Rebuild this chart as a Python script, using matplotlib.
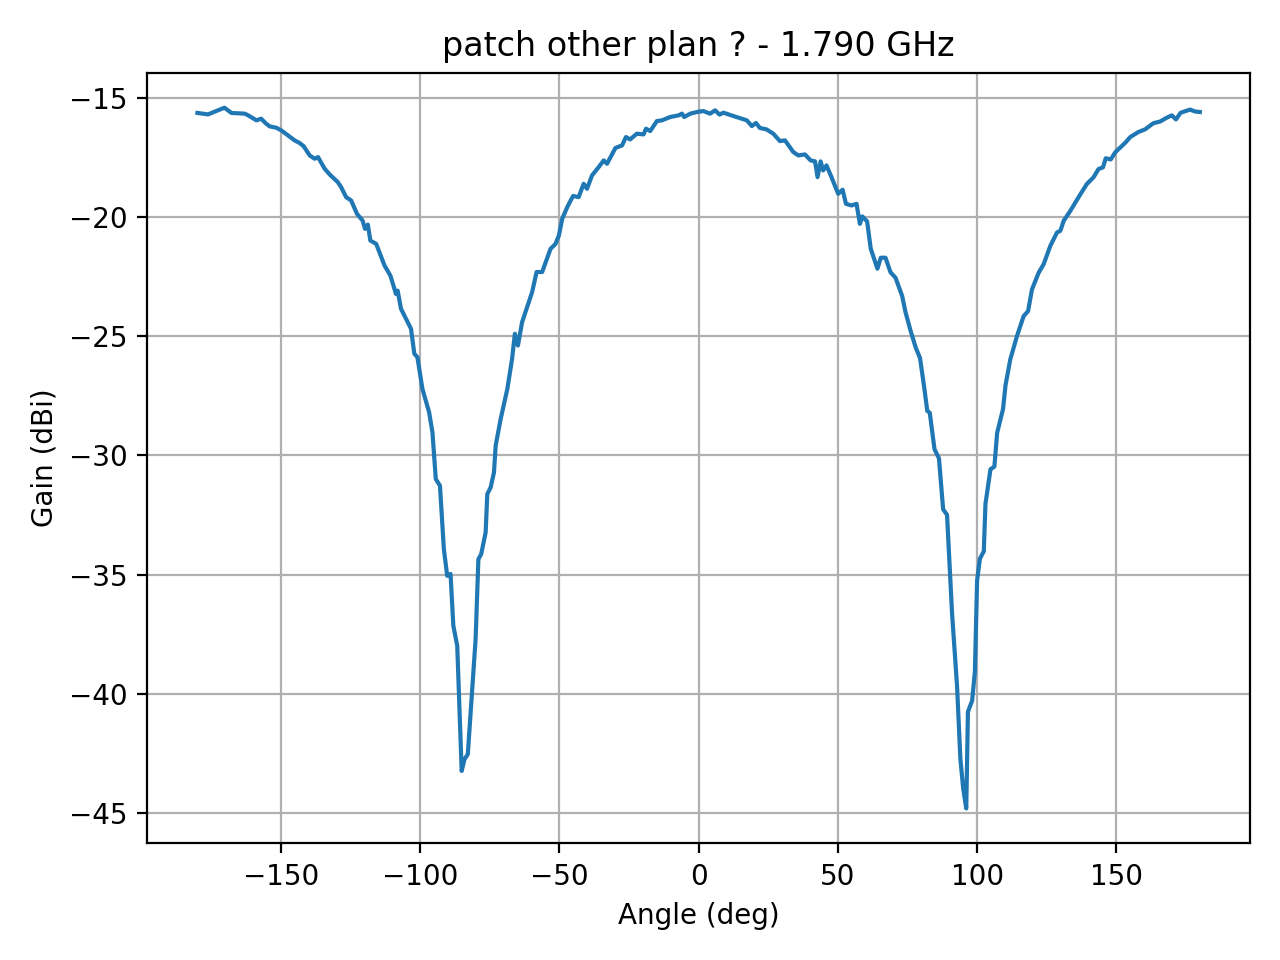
import matplotlib
matplotlib.use("Agg")
import matplotlib.pyplot as plt

angle_deg = [
    -180.0, -176.2, -173.2, -170.3, -167.8, -163.0, -161.8, -158.8, -157.1, -155.6,
    -154.1, -151.7, -149.9, -147.5, -145.1, -143.3, -141.8, -139.7, -137.9, -136.7,
    -134.3, -132.5, -129.6, -128.4, -126.6, -124.8, -122.7, -120.7, -119.8, -118.8,
    -117.9, -115.8, -112.8, -110.7, -108.7, -108.1, -106.9, -104.5, -103.3, -102.1,
    -101.0, -99.2, -96.8, -95.6, -94.4, -92.9, -91.5,
    -90.3, -89.1, -88.1, -86.7, -85.1, -84.1, -82.9, -80.1, -79.1, -78.1,
    -76.5, -75.9, -74.7, -73.5, -72.9, -71.1, -68.7, -67.0, -66.0, -64.9,
    -63.4, -59.8, -58.2, -56.2, -53.2, -51.4, -50.2, -49.0, -47.2, -45.1,
    -43.1, -41.3, -40.1, -38.3, -35.9, -34.1, -32.9, -29.9, -27.5, -26.1,
    -24.6, -22.2, -19.8, -18.9, -17.4, -15.0, -13.2, -10.2, -7.2, -6.0,
    -5.2, -3.0, -0.6, 1.7, 4.1, 5.9, 7.5, 8.9, 12.5, 17.3,
    19.1, 20.6, 22.0, 24.4, 26.8, 29.2, 31.0, 34.0, 35.8, 38.2,
    40.2, 41.8, 42.7, 43.8, 44.7, 45.9, 47.7, 50.1, 51.7, 52.9,
    54.9, 56.7, 57.9, 58.8, 60.5, 61.8, 64.2, 65.4, 67.1, 68.9,
    70.7, 73.1, 74.3, 76.1, 77.9, 79.5, 80.9, 82.1, 83.0, 84.7,
    86.3, 87.8, 89.2, 91.0, 92.8, 94.0, 95.0, 96.1, 96.7, 98.2,
    99.2, 100.0, 101.0, 102.4, 103.0, 104.8, 106.2, 107.2, 109.3, 110.2,
    111.9, 114.3, 116.7, 118.3, 119.7, 122.1, 123.9, 126.3, 128.7, 129.9,
    131.1, 133.5, 136.4, 139.4, 141.8, 143.6, 145.2, 146.2, 148.0, 149.6,
    153.2, 155.0, 157.9, 160.3, 163.3, 165.7, 168.1, 169.9, 171.4, 173.1,
    176.5, 178.3, 180.0,
]

gain_dbi = [
    -15.64, -15.70, -15.56, -15.42, -15.64, -15.67, -15.74, -15.95, -15.88, -16.06,
    -16.20, -16.26, -16.37, -16.58, -16.79, -16.90, -17.04, -17.42, -17.56, -17.49,
    -17.98, -18.22, -18.54, -18.75, -19.17, -19.31, -19.87, -20.15, -20.50, -20.32,
    -20.99, -21.13, -22.04, -22.46, -23.23, -23.09, -23.85, -24.41, -24.69, -25.74,
    -25.88, -27.21, -28.19, -29.03, -30.99, -31.27, -33.93,
    -35.05, -34.97, -37.14, -37.98, -43.23, -42.74, -42.53, -37.70, -34.35, -34.14,
    -33.23, -31.62, -31.34, -30.71, -29.59, -28.47, -27.21, -25.95, -24.90, -25.39,
    -24.41, -23.15, -22.31, -22.31, -21.34, -21.13, -20.78, -20.08, -19.59, -19.12,
    -19.17, -18.61, -18.82, -18.26, -17.91, -17.63, -17.77, -17.11, -17.00, -16.65,
    -16.75, -16.51, -16.54, -16.30, -16.40, -15.98, -15.95, -15.81, -15.74, -15.67,
    -15.81, -15.67, -15.60, -15.56, -15.67, -15.53, -15.71, -15.63, -15.77, -15.95,
    -16.19, -16.06, -16.27, -16.33, -16.51, -16.82, -16.79, -17.28, -17.42, -17.38,
    -17.63, -17.67, -18.33, -17.67, -18.05, -17.84, -18.33, -19.03, -18.86, -19.45,
    -19.52, -19.45, -20.29, -19.98, -20.19, -21.33, -22.17, -21.71, -21.71, -22.32,
    -22.55, -23.32, -24.00, -24.77, -25.46, -25.92, -27.06, -28.13, -28.21, -29.74,
    -30.12, -32.26, -32.49, -36.62, -39.68, -42.74, -43.96, -44.80, -40.75, -40.29,
    -39.07, -35.24, -34.33, -34.02, -32.03, -30.58, -30.47, -29.05, -28.06, -27.06,
    -25.98, -25.00, -24.16, -23.95, -23.04, -22.34, -21.98, -21.21, -20.65, -20.58,
    -20.16, -19.74, -19.18, -18.62, -18.34, -17.99, -17.92, -17.54, -17.59, -17.29,
    -16.89, -16.65, -16.44, -16.33, -16.07, -16.00, -15.84, -15.74, -15.91, -15.63,
    -15.50, -15.58, -15.60,
]

title = "patch other plan ? - 1.790 GHz"
xlabel = "Angle (deg)"
ylabel = "Gain (dBi)"

fig, ax = plt.subplots(figsize=(6.4, 4.8), dpi=200)
ax.plot(angle_deg, gain_dbi)
ax.set_title(title)
ax.set_xlabel(xlabel)
ax.set_ylabel(ylabel)
ax.grid(True)
fig.tight_layout()
fig.savefig("out.png", dpi=200)
